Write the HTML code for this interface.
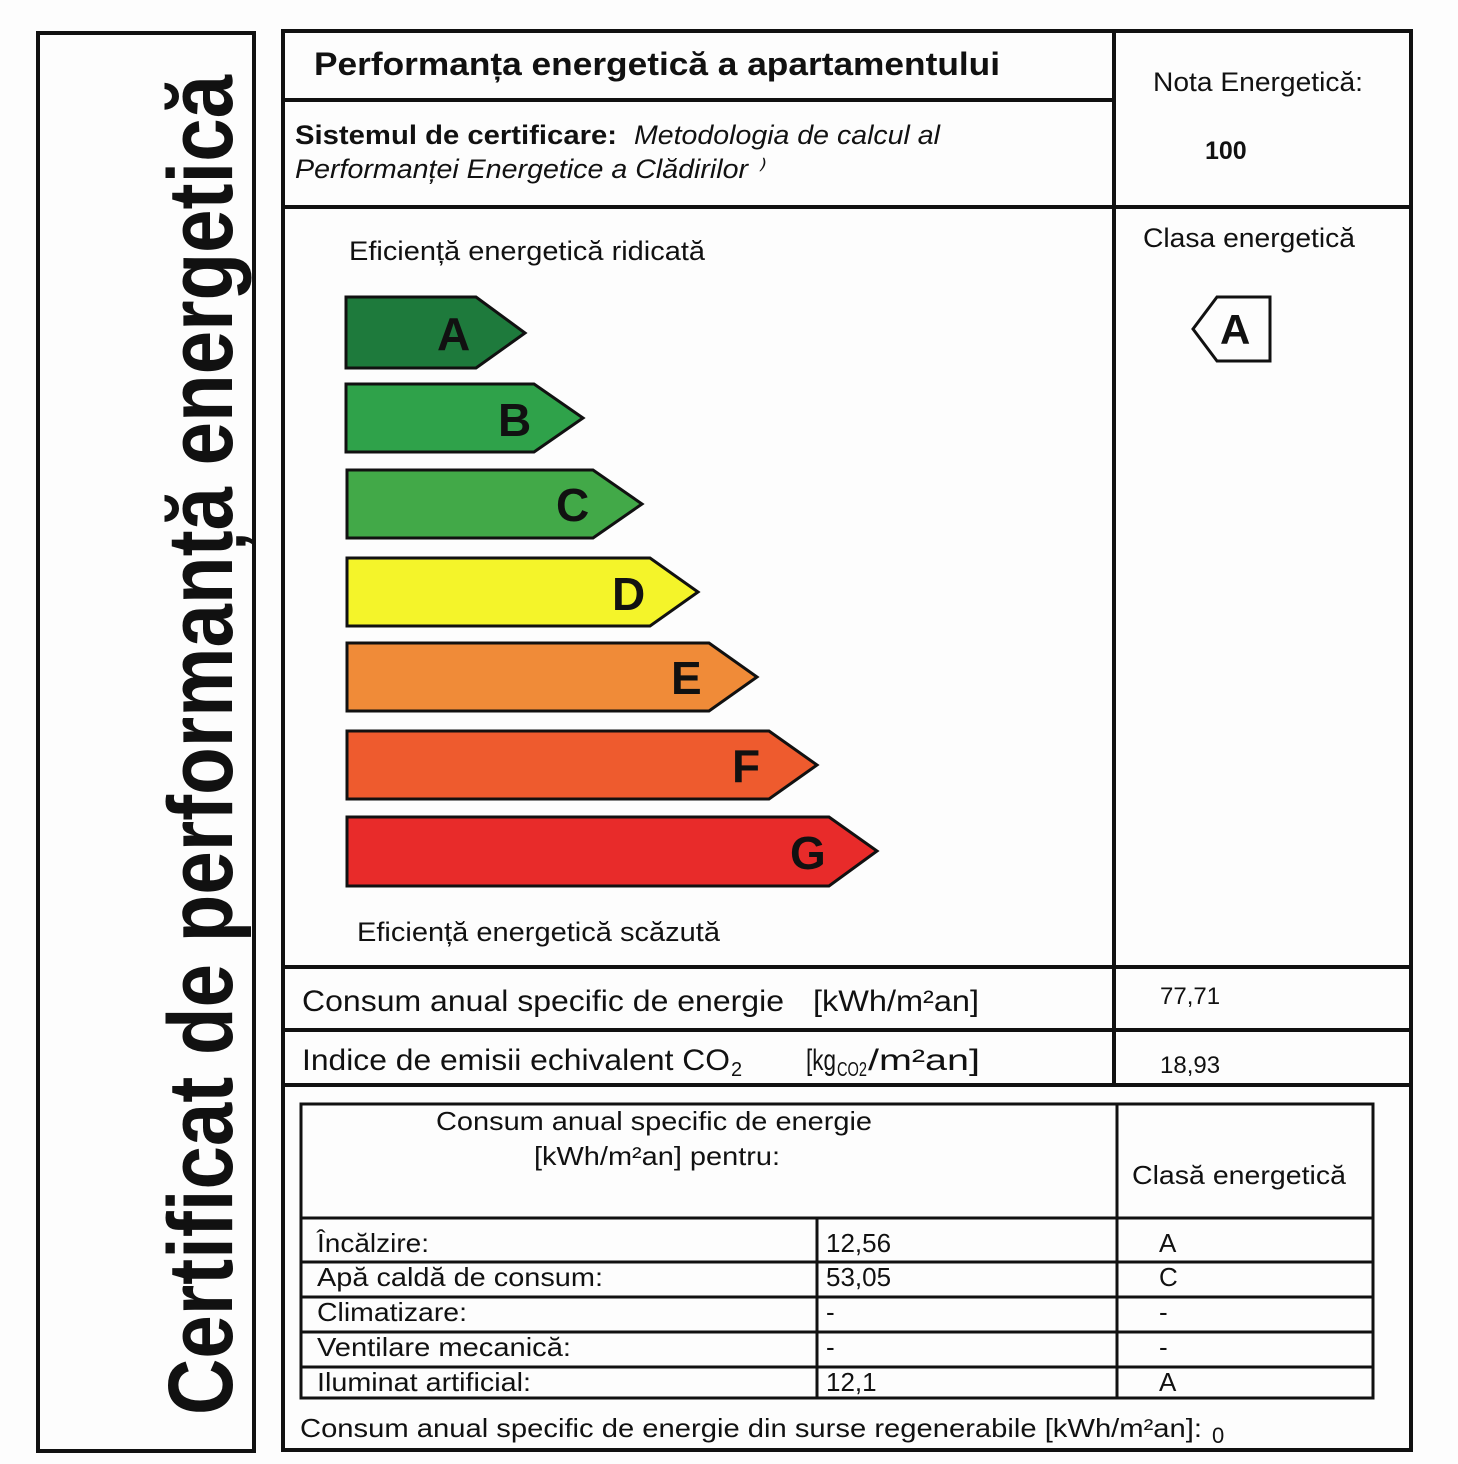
<!DOCTYPE html>
<html><head><meta charset="utf-8"><style>html,body{margin:0;padding:0;background:#fff}svg{display:block}</style></head>
<body>
<svg width="1458" height="1464" viewBox="0 0 1458 1464" xmlns="http://www.w3.org/2000/svg" font-family="Liberation Sans, sans-serif">
<rect width="1458" height="1464" fill="#fdfdfd"/>
<!-- left box -->
<rect x="38" y="33" width="216" height="1418" fill="none" stroke="#111" stroke-width="4"/>
<text transform="translate(232,1415) rotate(-90)" font-size="92" font-weight="bold" fill="#111" textLength="1340" lengthAdjust="spacingAndGlyphs">Certificat de performanță energetică</text>
<!-- main box -->
<g stroke="#111" stroke-width="4" fill="none">
<rect x="283" y="31" width="1128" height="1419"/>
<line x1="1114" y1="31" x2="1114" y2="1085"/>
<line x1="283" y1="100" x2="1114" y2="100"/>
<line x1="283" y1="207" x2="1411" y2="207"/>
<line x1="283" y1="967" x2="1411" y2="967"/>
<line x1="283" y1="1030" x2="1411" y2="1030"/>
<line x1="283" y1="1085" x2="1411" y2="1085"/>
</g>
<g stroke="#111" stroke-width="3" fill="none">
<rect x="301" y="1104" width="1072" height="294"/>
<line x1="1117" y1="1104" x2="1117" y2="1398"/>
<line x1="817" y1="1218" x2="817" y2="1398"/>
<line x1="301" y1="1218" x2="1373" y2="1218"/>
<line x1="301" y1="1262" x2="1373" y2="1262"/>
<line x1="301" y1="1297" x2="1373" y2="1297"/>
<line x1="301" y1="1332" x2="1373" y2="1332"/>
<line x1="301" y1="1367" x2="1373" y2="1367"/>
</g>
<g fill="#111">
<text x="314" y="75" font-size="32" font-weight="bold" textLength="686" lengthAdjust="spacingAndGlyphs">Performanța  energetică a apartamentului</text>
<text x="295" y="144" font-size="27" font-weight="bold" textLength="322" lengthAdjust="spacingAndGlyphs">Sistemul de certificare:</text>
<text x="634" y="144" font-size="27" font-style="italic" textLength="306" lengthAdjust="spacingAndGlyphs">Metodologia de calcul al</text>
<text x="295" y="178" font-size="27" font-style="italic" textLength="468" lengthAdjust="spacingAndGlyphs">Performanței Energetice a Clădirilor ⁾</text>
<text x="1153" y="91" font-size="27" textLength="210" lengthAdjust="spacingAndGlyphs">Nota Energetică:</text>
<text x="1205" y="159" font-size="25" font-weight="bold">100</text>
<text x="1143" y="247" font-size="27" textLength="212" lengthAdjust="spacingAndGlyphs">Clasa energetică</text>
<text x="349" y="260" font-size="27" textLength="356" lengthAdjust="spacingAndGlyphs">Eficiență energetică ridicată</text>
<text x="357" y="941" font-size="27" textLength="363" lengthAdjust="spacingAndGlyphs">Eficiență energetică scăzută</text>
</g>
<path d="M1270,297 L1270,361 L1217,361 L1193,329 L1217,297 Z" fill="none" stroke="#111" stroke-width="3"/>
<text x="1220" y="344" font-size="42" font-weight="bold" fill="#111">A</text>
<!-- arrows -->
<g stroke="#111" stroke-width="3">
<path d="M346,297 H476 L525,333 L476,368 H346 Z" fill="#1e7a3c"/>
<path d="M346,384 H534 L583,418 L534,452 H346 Z" fill="#2fa24a"/>
<path d="M347,470 H593 L642,504 L593,538 H347 Z" fill="#42a948"/>
<path d="M347,558 H650 L698,592 L650,626 H347 Z" fill="#f4f42a"/>
<path d="M347,643 H709 L757,677 L709,711 H347 Z" fill="#f08b38"/>
<path d="M347,731 H769 L817,765 L769,799 H347 Z" fill="#ee5b2e"/>
<path d="M347,817 H829 L877,851 L829,886 H347 Z" fill="#e82b2a"/>
</g>
<g font-size="46" font-weight="bold" fill="#111">
<text x="437" y="350">A</text>
<text x="498" y="436">B</text>
<text x="556" y="521">C</text>
<text x="612" y="610">D</text>
<text x="671" y="694">E</text>
<text x="732" y="782">F</text>
<text x="790" y="869">G</text>
</g>
<g fill="#111" font-size="30">
<text x="302" y="1011" textLength="482" lengthAdjust="spacingAndGlyphs">Consum anual specific de energie</text>
<text x="813" y="1011" textLength="166" lengthAdjust="spacingAndGlyphs">[kWh/m²an]</text>
<text x="1160" y="1004" font-size="24">77,71</text>
<text x="302" y="1070" textLength="428" lengthAdjust="spacingAndGlyphs">Indice de emisii echivalent CO</text>
<text x="731" y="1076" font-size="20">2</text>
<text x="806" y="1070" textLength="30" lengthAdjust="spacingAndGlyphs">[kg</text>
<text x="837" y="1076" font-size="20" textLength="30" lengthAdjust="spacingAndGlyphs">CO2</text>
<text x="868" y="1070" textLength="112" lengthAdjust="spacingAndGlyphs">/m²an]</text>
<text x="1160" y="1073" font-size="24">18,93</text>
</g>
<g fill="#111" font-size="26">
<text x="436" y="1130" textLength="436" lengthAdjust="spacingAndGlyphs">Consum anual specific de energie</text>
<text x="534" y="1165" textLength="246" lengthAdjust="spacingAndGlyphs">[kWh/m²an] pentru:</text>
<text x="1132" y="1184" textLength="214" lengthAdjust="spacingAndGlyphs">Clasă energetică</text>
<text x="317" y="1252" textLength="112" lengthAdjust="spacingAndGlyphs">Încălzire:</text>
<text x="317" y="1286" textLength="286" lengthAdjust="spacingAndGlyphs">Apă caldă de consum:</text>
<text x="317" y="1321" textLength="150" lengthAdjust="spacingAndGlyphs">Climatizare:</text>
<text x="317" y="1356" textLength="254" lengthAdjust="spacingAndGlyphs">Ventilare mecanică:</text>
<text x="317" y="1391" textLength="214" lengthAdjust="spacingAndGlyphs">Iluminat artificial:</text>
<text x="826" y="1252">12,56</text>
<text x="826" y="1286">53,05</text>
<text x="826" y="1321">-</text>
<text x="826" y="1356">-</text>
<text x="826" y="1391">12,1</text>
<text x="1159" y="1252">A</text>
<text x="1159" y="1286">C</text>
<text x="1159" y="1321">-</text>
<text x="1159" y="1356">-</text>
<text x="1159" y="1391">A</text>
<text x="300" y="1437" textLength="902" lengthAdjust="spacingAndGlyphs">Consum anual specific de energie din surse regenerabile [kWh/m²an]:</text>
<text x="1212" y="1443" font-size="22">0</text>
</g>
</svg>
</body></html>
